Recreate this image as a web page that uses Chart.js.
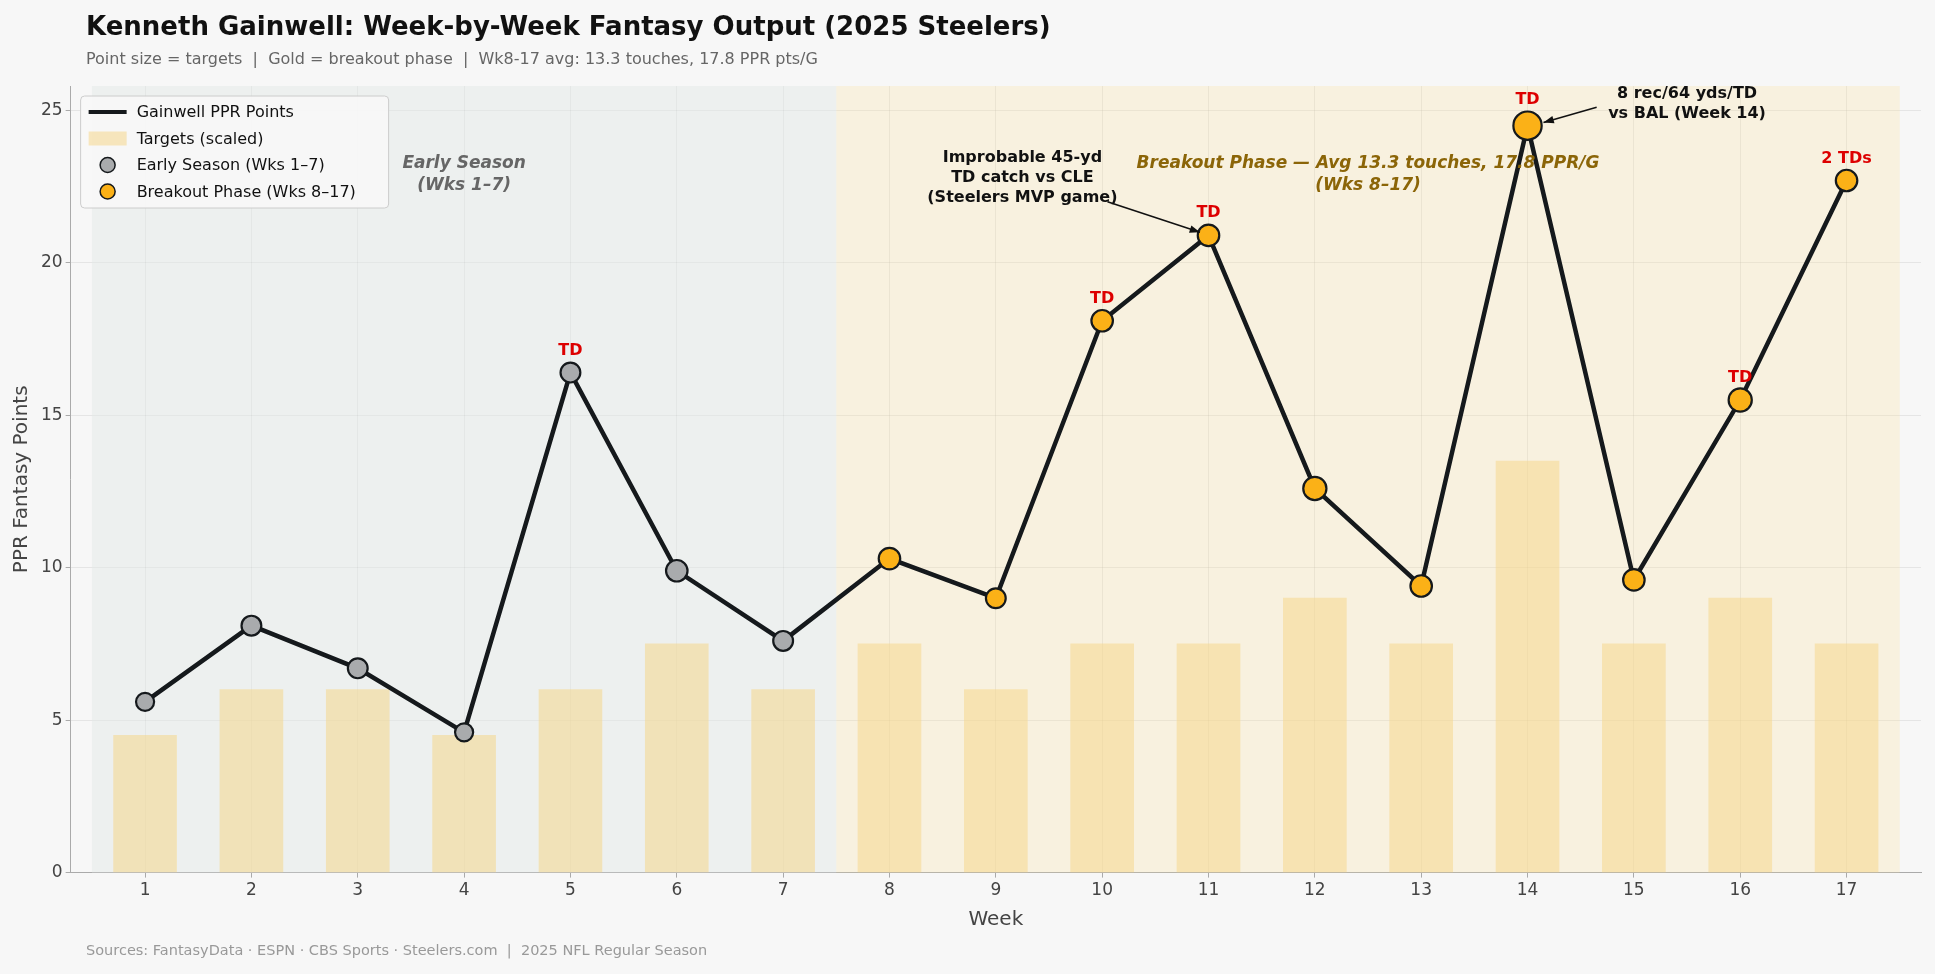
<!DOCTYPE html>
<html>
<head>
<meta charset="utf-8">
<script src="https://cdn.jsdelivr.net/npm/chart.js@4.4.1/dist/chart.umd.min.js"></script>
<style>
  html, body { margin: 0; padding: 0; background: #f7f7f7; }
  #wrap { width: 1935px; height: 974px; }
</style>
</head>
<body>
<div id="wrap"><canvas id="chart" width="1935" height="974"></canvas></div>
<script>
const weeks = [1, 2, 3, 4, 5, 6, 7, 8, 9, 10, 11, 12, 13, 14, 15, 16, 17];
const pprPoints = [5.6, 8.1, 6.7, 4.6, 16.4, 9.9, 7.6, 10.3, 9.0, 18.1, 20.9, 12.6, 9.4, 24.5, 9.6, 15.5, 22.7];
const targets = [3, 4, 4, 3, 4, 5, 4, 5, 4, 5, 5, 6, 5, 9, 5, 6, 5];
const targetScale = 1.5;
const tdLabels = ['', '', '', '', 'TD', '', '', '', '', 'TD', 'TD', '', '', 'TD', '', 'TD', '2 TDs'];
const yTicks = [0, 5, 10, 15, 20, 25];
const breakoutStart = 8;

const font = "'DejaVu Sans', sans-serif";
const grey = '#a9abad', gold = '#fbb117';

// background zones, titles, notes and legend drawn on the canvas
const decor = {
    id: 'decor',
    beforeDatasetsDraw(chart) {
        const { ctx, chartArea: a, scales: { x } } = chart;
        ctx.save();
        ctx.fillStyle = 'rgba(225,230,228,0.45)';
        ctx.fillRect(x.getPixelForValue(0.5), a.top, x.getPixelForValue(7.5) - x.getPixelForValue(0.5), a.bottom - a.top);
        ctx.fillStyle = 'rgba(250,225,160,0.28)';
        ctx.fillRect(x.getPixelForValue(7.5), a.top, x.getPixelForValue(17.5) - x.getPixelForValue(7.5), a.bottom - a.top);
        ctx.restore();
    },
    afterDraw(chart) {
        const { ctx, chartArea: a, scales: { x, y } } = chart;
        ctx.save();
        ctx.textBaseline = 'alphabetic';
        ctx.textAlign = 'left';
        ctx.fillStyle = '#111';
        ctx.font = `bold 26px ${font}`;
        ctx.fillText('Kenneth Gainwell: Week-by-Week Fantasy Output (2025 Steelers)', 86, 35);
        ctx.fillStyle = '#666';
        ctx.font = `16px ${font}`;
        ctx.fillText('Point size = targets  |  Gold = breakout phase  |  Wk8-17 avg: 13.3 touches, 17.8 PPR pts/G', 86, 64);
        ctx.fillStyle = '#999';
        ctx.font = `14.5px ${font}`;
        ctx.fillText('Sources: FantasyData · ESPN · CBS Sports · Steelers.com  |  2025 NFL Regular Season', 86, 955);

        // zone labels
        ctx.textAlign = 'center';
        ctx.font = `italic bold 17px ${font}`;
        ctx.fillStyle = '#666';
        ctx.fillText('Early Season', x.getPixelForValue(4), y.getPixelForValue(23.3) + 6);
        ctx.fillText('(Wks 1–7)', x.getPixelForValue(4), y.getPixelForValue(22.6) + 6);
        ctx.fillStyle = '#8b6508';
        ctx.fillText('Breakout Phase — Avg 13.3 touches, 17.8 PPR/G', x.getPixelForValue(12.5), y.getPixelForValue(23.3) + 6);
        ctx.fillText('(Wks 8–17)', x.getPixelForValue(12.5), y.getPixelForValue(22.6) + 6);

        // TD labels
        ctx.fillStyle = '#d00';
        ctx.font = `bold 16px ${font}`;
        tdLabels.forEach((t, i) => {
            if (!t) return;
            ctx.fillText(t, x.getPixelForValue(weeks[i]), y.getPixelForValue(pprPoints[i]) - 18 - (weeks[i] === 14 ? 4 : 0));
        });

        // callouts
        ctx.fillStyle = '#111';
        ctx.font = `bold 16px ${font}`;
        const c1 = [x.getPixelForValue(9.25), y.getPixelForValue(23.3)];
        ['Improbable 45-yd', 'TD catch vs CLE', '(Steelers MVP game)'].forEach((s, k) => ctx.fillText(s, c1[0], c1[1] + k * 20));
        const c2 = [x.getPixelForValue(15.5), y.getPixelForValue(25.4)];
        ['8 rec/64 yds/TD', 'vs BAL (Week 14)'].forEach((s, k) => ctx.fillText(s, c2[0], c2[1] + k * 20));
        const arrow = (x0, y0, x1, y1) => {
            ctx.strokeStyle = '#111'; ctx.fillStyle = '#111'; ctx.lineWidth = 1.6;
            ctx.beginPath(); ctx.moveTo(x0, y0); ctx.lineTo(x1, y1); ctx.stroke();
            const ang = Math.atan2(y1 - y0, x1 - x0);
            ctx.beginPath(); ctx.moveTo(x1, y1);
            ctx.lineTo(x1 - 11 * Math.cos(ang - 0.35), y1 - 11 * Math.sin(ang - 0.35));
            ctx.lineTo(x1 - 11 * Math.cos(ang + 0.35), y1 - 11 * Math.sin(ang + 0.35));
            ctx.closePath(); ctx.fill();
        };
        arrow(x.getPixelForValue(10.05), y.getPixelForValue(22.0), x.getPixelForValue(10.92), y.getPixelForValue(21.0));
        arrow(x.getPixelForValue(14.65), y.getPixelForValue(25.1), x.getPixelForValue(14.15), y.getPixelForValue(24.6));

        // legend
        const lx = a.left + 10, ly = a.top + 10;
        ctx.fillStyle = 'rgba(247,247,247,0.9)';
        ctx.strokeStyle = '#ccc'; ctx.lineWidth = 1;
        ctx.beginPath(); ctx.roundRect(lx, ly, 308, 112, 4); ctx.fill(); ctx.stroke();
        ctx.textAlign = 'left'; ctx.textBaseline = 'middle';
        ctx.font = `16px ${font}`;
        const rows = ['Gainwell PPR Points', 'Targets (scaled)', 'Early Season (Wks 1–7)', 'Breakout Phase (Wks 8–17)'];
        rows.forEach((r, k) => {
            const yy = ly + 16 + k * 26.5;
            if (k === 0) { ctx.strokeStyle = '#15191c'; ctx.lineWidth = 4; ctx.beginPath(); ctx.moveTo(lx + 8, yy); ctx.lineTo(lx + 46, yy); ctx.stroke(); }
            if (k === 1) { ctx.fillStyle = 'rgba(245,215,140,0.55)'; ctx.fillRect(lx + 8, yy - 7, 38, 14); }
            if (k >= 2) {
                ctx.fillStyle = k === 2 ? grey : gold; ctx.strokeStyle = '#15191c'; ctx.lineWidth = 1.5;
                ctx.beginPath(); ctx.arc(lx + 27, yy, 7.5, 0, Math.PI * 2); ctx.fill(); ctx.stroke();
            }
            ctx.fillStyle = '#111';
            ctx.fillText(r, lx + 56, yy + 1);
        });
        ctx.restore();
    }
};

new Chart(document.getElementById('chart'), {
    data: {
        datasets: [
            {
                type: 'line',
                label: 'Gainwell PPR Points',
                data: weeks.map((w, i) => ({ x: w, y: pprPoints[i] })),
                borderColor: '#15191c',
                borderWidth: 4.5,
                pointBackgroundColor: weeks.map(w => w >= breakoutStart ? gold : grey),
                pointBorderColor: '#15191c',
                pointBorderWidth: 2.2,
                pointRadius: targets.map(t => 6.5 + t * 0.85),
                order: 1
            },
            {
                type: 'bar',
                label: 'Targets (scaled)',
                data: weeks.map((w, i) => ({ x: w, y: targets[i] * targetScale })),
                backgroundColor: 'rgba(245,215,140,0.55)',
                barThickness: 63,
                order: 2
            }
        ]
    },
    options: {
        responsive: false,
        animation: false,
        layout: { padding: { top: 86, left: 6, right: 14, bottom: 38 } },
        plugins: { legend: { display: false }, tooltip: { enabled: false } },
        scales: {
            x: {
                type: 'linear', min: 0.3, max: 17.7, offset: false,
                afterBuildTicks: s => { s.ticks = weeks.map(v => ({ value: v })); },
                ticks: { color: '#444', font: { family: font, size: 17 } },
                grid: { offset: false, color: 'rgba(0,0,0,0.07)', drawTicks: true, tickColor: '#aaa', tickLength: 5 },
                border: { color: '#aaa' },
                title: { display: true, text: 'Week', color: '#444', font: { family: font, size: 20 } }
            },
            y: {
                min: 0, max: 25.8,
                afterBuildTicks: s => { s.ticks = yTicks.map(v => ({ value: v })); },
                ticks: { color: '#444', font: { family: font, size: 17 } },
                grid: { color: 'rgba(0,0,0,0.07)', tickColor: '#aaa', tickLength: 5 },
                border: { color: '#aaa' },
                title: { display: true, text: 'PPR Fantasy Points', color: '#444', font: { family: font, size: 20 } }
            }
        }
    },
    plugins: [decor]
});
</script>
</body>
</html>
